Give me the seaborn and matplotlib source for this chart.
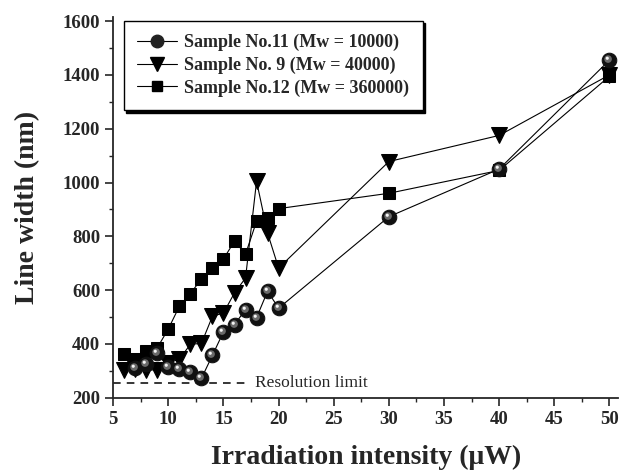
import matplotlib
matplotlib.use("Agg")
import matplotlib.pyplot as plt
import seaborn as sns
import numpy as np
from matplotlib.lines import Line2D
from matplotlib.ticker import MultipleLocator

# data
x11 = [7, 8, 9, 10, 11, 12, 13, 14, 15, 16, 17, 18, 19, 20, 30, 40, 50]
y11 = [312, 325, 366, 314, 308, 295, 272, 358, 445, 472, 528, 498, 596, 533, 873, 1050, 1455]

x9 = [6, 7, 8, 9, 10, 11, 12, 13, 14, 15, 16, 17, 18, 19, 20, 30, 40, 50]
y9 = [303, 307, 302, 305, 330, 343, 399, 402, 503, 515, 590, 645, 1005, 812, 682, 1078, 1175, 1400]

x12 = [6, 7, 8, 9, 10, 11, 12, 13, 14, 15, 16, 17, 18, 19, 20, 30, 40, 50]
y12 = [362, 343, 374, 386, 456, 540, 587, 642, 681, 716, 782, 734, 856, 869, 903, 960, 1045, 1395]

labels = ["Sample No.11 (Mw = 10000)", "Sample No. 9 (Mw = 40000)", "Sample No.12 (Mw = 360000)"]
res_limit = 255
res_x = [5, 17.2]

sns.set_style("ticks")
plt.rcParams['font.family'] = ['Liberation Serif', 'DejaVu Serif']

fig = plt.figure(figsize=(6.22, 4.73), dpi=100)
ax = fig.add_axes([0.182, 0.159, 0.812, 0.805])

lw = 0.8
# squares
sns.lineplot(x=x12, y=y12, ax=ax, color='black', lw=lw, marker='s', markersize=8.5,
             markeredgecolor='black', zorder=3)
# triangles
sns.lineplot(x=x9, y=y9, ax=ax, color='black', lw=lw, marker='v', markersize=11,
             markeredgecolor='black', zorder=4)
# spheres: black ball with layered highlight
sns.lineplot(x=x11, y=y11, ax=ax, color='black', lw=lw, marker='o', markersize=10.5,
             markerfacecolor='#111111', markeredgecolor='#111111', zorder=5)

hl_mid = matplotlib.path.Path.circle(center=(-0.12, 0.12), radius=0.32)
hl_top = matplotlib.path.Path.circle(center=(-0.2, 0.2), radius=0.14)
ax.plot(x11, y11, ls='none', marker=hl_mid, markersize=7.5, markerfacecolor='#6a6a6a',
        markeredgewidth=0, zorder=6)
ax.plot(x11, y11, ls='none', marker=hl_top, markersize=5.5, markerfacecolor='#f4f4f4',
        markeredgewidth=0, zorder=7)

# resolution limit
ax.plot(res_x, [res_limit, res_limit], color='black', lw=1.1, ls=(0, (5, 4)), zorder=2)
ax.text(res_x[1] + 0.7, res_limit, "Resolution limit", fontsize=12.5, va='center', ha='left')

ax.set_xlim(5, 50.8)
ax.set_ylim(200, 1615)
ax.xaxis.set_major_locator(MultipleLocator(5))
ax.xaxis.set_minor_locator(MultipleLocator(2.5))
ax.yaxis.set_major_locator(MultipleLocator(200))
ax.yaxis.set_minor_locator(MultipleLocator(100))
ax.tick_params(which='major', direction='out', length=6, width=1.2, labelsize=13.5)
ax.tick_params(which='minor', direction='out', length=3, width=1)
for lab in ax.get_xticklabels() + ax.get_yticklabels():
    lab.set_fontweight('bold')
for s in ['top', 'right']:
    ax.spines[s].set_visible(False)
for s in ['left', 'bottom']:
    ax.spines[s].set_linewidth(1.3)

ax.set_xlabel("Irradiation intensity (\u03bcW)", fontsize=20, fontweight='bold', labelpad=12)
ax.set_ylabel("Line width (nm)", fontsize=20, fontweight='bold', labelpad=16)

handles = [
    Line2D([], [], color='black', lw=lw, marker='o', markersize=9, markerfacecolor='#222222',
           markeredgecolor='#222222'),
    Line2D([], [], color='black', lw=lw, marker='v', markersize=10),
    Line2D([], [], color='black', lw=lw, marker='s', markersize=7),
]
leg = ax.legend(handles, labels, loc='upper left', bbox_to_anchor=(0.01, 1.005),
                prop={'weight': 'bold', 'size': 13}, frameon=True, fancybox=False,
                edgecolor='black', framealpha=1, handlelength=2.2, labelspacing=0.3,
                borderpad=0.75, handletextpad=0.4, borderaxespad=0.3,
                shadow={'color': 'black', 'alpha': 1})
leg.get_frame().set_linewidth(1.0)

fig.savefig("out.png", dpi=100)
